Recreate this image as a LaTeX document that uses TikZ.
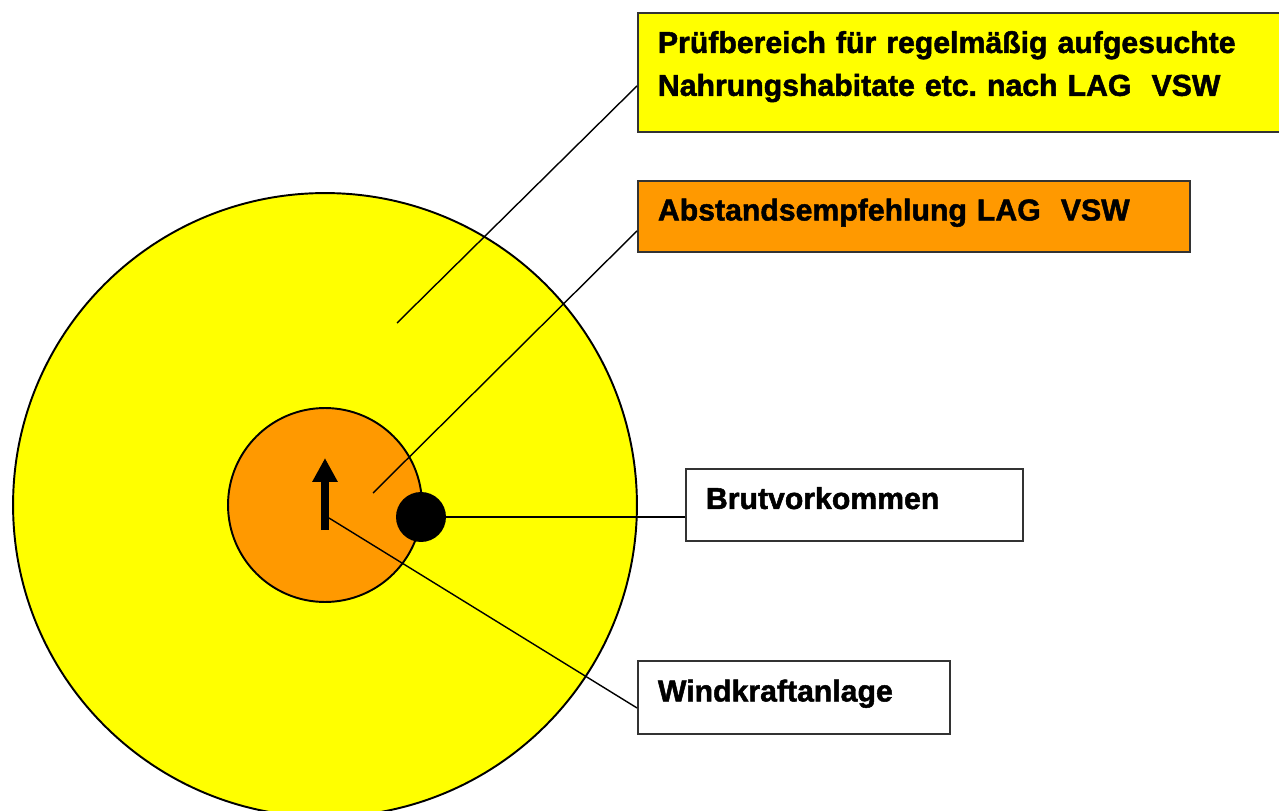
\documentclass[tikz,border=0pt]{standalone}
\usepackage{fontspec}
\setmainfont{Liberation Sans}[BoldFeatures={FakeBold=1.6}]
\usetikzlibrary{arrows.meta}
\definecolor{gelb}{RGB}{255,255,0}
\definecolor{orange}{RGB}{255,153,0}
\tikzset{
	infobox/.style={draw=black!80, line width=1.1pt, anchor=north west, inner xsep=0.4cm, inner ysep=0pt, align=left, font=\bfseries\fontsize{17.2}{24.4}\selectfont\frenchspacing, text height=0.5cm, text depth=0.34cm},
	zone/.style={circle, draw, line width=1.1pt, inner sep=0pt},
	conn/.style={line width=0.8pt},
}
\begin{document}
\begin{tikzpicture}[x=0.02cm, y=-0.02cm]
		\clip (0,0) rectangle (1279,811);
		% Kreise
		\node[zone, fill=gelb, minimum size=12.48cm] (pruefkreis) at (325,505) {};
		\node[zone, fill=orange, minimum size=3.88cm] (abstandkreis) at (325,505) {};
		\node[circle, fill=black, inner sep=0pt, minimum size=1cm] (brutpunkt) at (421,517) {};
		\coordinate (pruefpt) at (397,323);
		\coordinate (abstandpt) at (373,493);
		\coordinate (wkapt) at (329,518);
		\coordinate (wka) at (325,530);
		% Beschriftungen
		\node[infobox, fill=gelb, text width=12.4cm, minimum height=2.38cm, text height=0.4cm, text depth=1.18cm] (pruef) at (637,12) {Prüfbereich für regelmäßig aufgesuchte\\Nahrungshabitate etc. nach LAG\ \ VSW};
		\node[infobox, fill=orange, text width=10.24cm, minimum height=1.42cm] (abstand) at (637,180) {Abstandsempfehlung LAG\ \ VSW};
		\node[infobox, fill=white, text width=5.94cm, minimum height=1.44cm] (brut) at (685,468) {Brutvorkommen};
		\node[infobox, fill=white, text width=5.44cm, minimum height=1.46cm] (anlage) at (637,660) {Windkraftanlage};
		% Linien
		\draw[conn] (pruefpt) -- ([yshift=-0.27cm]pruef.west);
		\draw[conn] (abstandpt) -- ([yshift=-0.29cm]abstand.west);
		\draw[conn] (brutpunkt.east) -- (brut.west |- brutpunkt);
		\draw[conn] (wkapt) -- ([yshift=-0.21cm]anlage.west);
		\draw[line width=4.5pt, -{Triangle[length=0.48cm, width=0.48cm]}] (wka) -- ++(0,-72);
	\end{tikzpicture}
\end{document}
